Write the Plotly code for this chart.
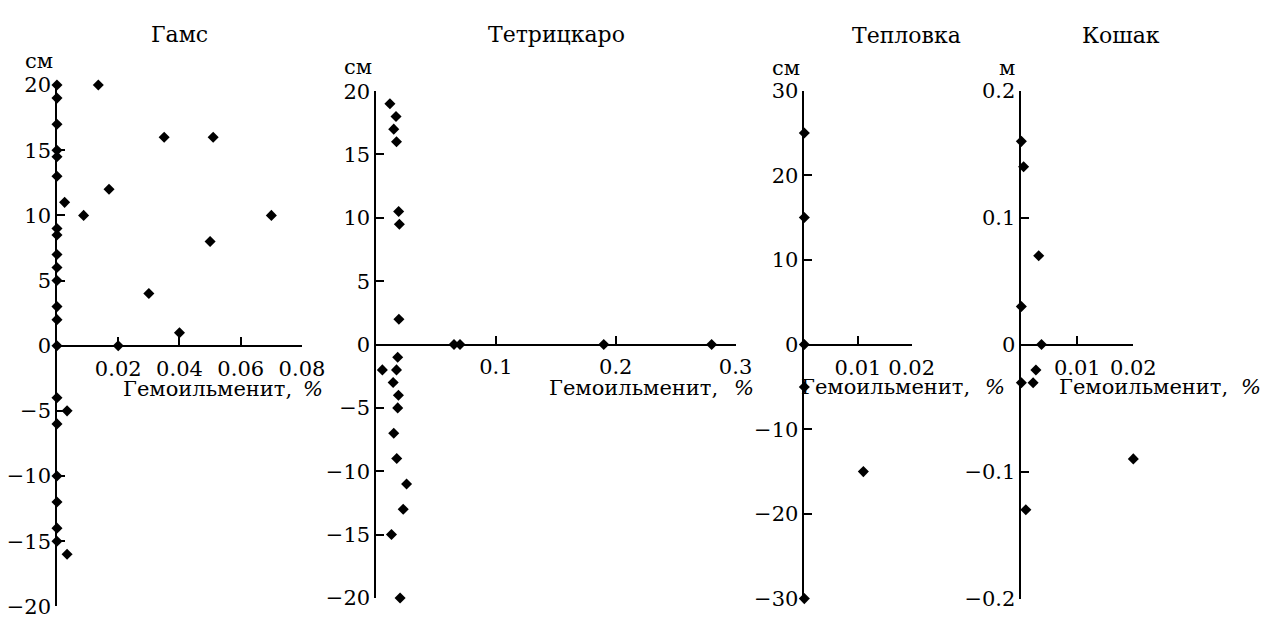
import plotly.graph_objects as go

W, H = 1283, 626

# Гамс
gams_x = [0, 0.0135, 0, 0, 0.035, 0.051, 0, 0, 0, 0.017, 0.0025, 0.0087, 0.070,
          0, 0, 0.050, 0, 0, 0, 0.030, 0, 0, 0.040, 0, 0.020, 0, 0.0033, 0, 0,
          0, 0, 0, 0.0033]
gams_y = [20, 20, 19, 17, 16, 16, 15, 14.5, 13, 12, 11, 10, 10, 9, 8.5, 8, 7, 6,
          5, 4, 3, 2, 1, 0, 0, -4, -5, -6, -10, -12, -14, -15, -16]

# Тетрицкаро
tetri_x = [0.0115, 0.0166, 0.0147, 0.017, 0.0188, 0.0194, 0.019, 0.065, 0.07,
           0.19, 0.28, 0.018, 0.0052, 0.017, 0.0142, 0.0186, 0.018, 0.0147,
           0.0172, 0.0254, 0.0226, 0.0128, 0.020]
tetri_y = [19, 18, 17, 16, 10.5, 9.5, 2, 0, 0, 0, 0, -1, -2, -2, -3, -4, -5, -7,
           -9, -11, -13, -15, -20]

# Тепловка
tep_x = [0, 0, 0, 0, 0.011, 0]
tep_y = [25, 15, 0, -5, -15, -30]

# Кошак
kosh_x = [0, 0.0004, 0.0031, 0, 0.0036, 0.0026, 0, 0.0021, 0.02, 0.0008]
kosh_y = [0.16, 0.14, 0.07, 0.03, 0, -0.02, -0.03, -0.03, -0.09, -0.13]

titles = ["Гамс", "Тетрицкаро", "Тепловка", "Кошак"]
units = ["см", "см", "см", "м"]
x_label = "Гемоильменит,"
x_unit = "%"

x_ranges = [[0, 0.08], [0, 0.3], [0, 0.02], [0, 0.02]]
x_ticks = [[0.02, 0.04, 0.06, 0.08], [0.1, 0.2, 0.3], [0.01, 0.02], [0.01, 0.02]]
y_ranges = [[-20, 20], [-20, 20], [-30, 30], [-0.2, 0.2]]
y_ticks = [[-20, -15, -10, -5, 0, 5, 10, 15, 20],
           [-20, -15, -10, -5, 0, 5, 10, 15, 20],
           [-30, -20, -10, 0, 10, 20, 30],
           [-0.2, -0.1, 0, 0.1, 0.2]]

series = [(gams_x, gams_y), (tetri_x, tetri_y), (tep_x, tep_y), (kosh_x, kosh_y)]

# pixel layout of each panel: x-axis left/right, y-axis top/bottom
px_x = [(58, 307.5), (383, 749), (819, 928.3), (1040, 1154)]
px_y = [(76, 618), (82.3, 609.3), (81.7, 610), (81.7, 610)]

FONT = "DejaVu Serif"
FS = 21
FS_TITLE = 22

def fx(p):
    return p / W

def fy(p):
    return 1 - p / H

fig = go.Figure()
for i, ((xs, ys), xr, xt, yr, yt) in enumerate(zip(series, x_ranges, x_ticks, y_ranges, y_ticks)):
    n = "" if i == 0 else str(i + 1)
    xa, ya = "x" + n, "y" + n
    fig.add_trace(go.Scatter(
        x=xs, y=ys, mode="markers", xaxis=xa, yaxis=ya, cliponaxis=False,
        marker=dict(symbol="diamond", size=8.5, color="black"),
    ))

layout = go.Layout(
    width=W, height=H, margin=dict(l=0, r=0, t=0, b=0),
    paper_bgcolor="white", plot_bgcolor="white", showlegend=False,
    font=go.layout.Font(family=FONT, size=FS, color="black"),
)
fig.update_layout(layout)

axis_common = dict(
    showgrid=False, zeroline=False, showline=True, linecolor="black",
    linewidth=1.5, ticks="inside", ticklen=8, tickwidth=1.5, tickcolor="black",
    tickfont=dict(family=FONT, size=FS, color="black"), tickmode="array",
)

for i, (xr, xt, yr, yt) in enumerate(zip(x_ranges, x_ticks, y_ranges, y_ticks)):
    n = "" if i == 0 else str(i + 1)
    (x0, x1), (y0, y1) = px_x[i], px_y[i]
    fig.update_layout({
        "xaxis" + n: dict(axis_common, domain=[fx(x0), fx(x1)], range=xr, tickvals=xt,
                          anchor="free", position=fy((y0 + y1) / 2), side="bottom",
                          ticklabelstandoff=4),
        "yaxis" + n: dict(axis_common, domain=[fy(y1), fy(y0)], range=yr, tickvals=yt,
                          anchor="x" + n, side="left"),
    })

title_pos = [(182.7, 23), (566.7, 23), (923, 24), (1141.7, 24)]
unit_pos = [(40, 51), (365, 57), (800, 58), (1025, 58)]
# x-axis caption: left edge of the word, left edge of the italic percent sign, baseline row
xlab_pos = [(123, 306, 392), (557, 745, 391), (814, 1001, 390), (1076, 1262, 390)]
for i in range(4):
    fig.add_annotation(text=titles[i], x=fx(title_pos[i][0]), y=fy(title_pos[i][1]),
                       xref="paper", yref="paper", showarrow=False,
                       xanchor="center", yanchor="middle",
                       font=dict(family=FONT, size=FS_TITLE, color="black"))
    fig.add_annotation(text=units[i], x=fx(unit_pos[i][0]), y=fy(unit_pos[i][1]),
                       xref="paper", yref="paper", showarrow=False,
                       xanchor="center", yanchor="middle",
                       font=dict(family=FONT, size=FS, color="black"))
    xw, xp, yp = xlab_pos[i]
    fig.add_annotation(text=x_label, x=fx(xw), y=fy(yp),
                       xref="paper", yref="paper", showarrow=False,
                       xanchor="left", yanchor="middle",
                       font=dict(family=FONT, size=FS, color="black"))
    fig.add_annotation(text=x_unit, x=fx(xp), y=fy(yp),
                       xref="paper", yref="paper", showarrow=False,
                       xanchor="left", yanchor="middle",
                       font=dict(family=FONT, size=FS, color="black", style="italic"))

fig.write_html("out.html")
